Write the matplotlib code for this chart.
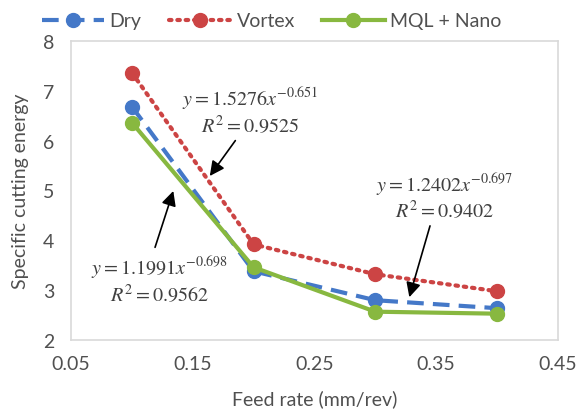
import matplotlib.pyplot as plt

plt.rcParams["font.family"] = ["Lato", "DejaVu Sans"]
plt.rcParams["mathtext.fontset"] = "stix"

feed = [0.1, 0.2, 0.3, 0.4]
dry = [6.68, 3.38, 2.8, 2.64]
vortex = [7.36, 3.92, 3.32, 2.98]
mql = [6.36, 3.46, 2.57, 2.53]

xticks = [0.05, 0.15, 0.25, 0.35, 0.45]
yticks = [2, 3, 4, 5, 6, 7, 8]

blue = "#4478C8"
red = "#CC4444"
green = "#88B840"
txt = "#505050"

fig = plt.figure(figsize=(5.78, 4.10), dpi=100)
ax = fig.add_axes([0.123, 0.168, 0.842, 0.730])

ax.plot(feed, dry, color=blue, lw=3, ls=(0, (4, 2.2)), marker="o", ms=10, label="Dry")
ax.plot(feed, vortex, color=red, lw=3, ls=(0, (0.6, 1.4)), dash_capstyle="round",
        marker="o", ms=10, label="Vortex")
ax.plot(feed, mql, color=green, lw=3, marker="o", ms=10, label="MQL + Nano")

ax.set_xlim(0.05, 0.45)
ax.set_ylim(2, 8)
ax.set_xticks(xticks)
ax.set_xticklabels([f"{v:.2f}" for v in xticks])
ax.set_yticks(yticks)
ax.tick_params(length=0, labelsize=14, colors=txt)
ax.tick_params(axis="x", pad=11)
ax.tick_params(axis="y", pad=12)
for s in ax.spines.values():
    s.set_color("#D9D9D9")
    s.set_linewidth(1.2)

ax.set_xlabel("Feed rate (mm/rev)", fontsize=14, color=txt, labelpad=12)
ax.set_ylabel("Specific cutting energy", fontsize=14, color=txt, labelpad=10)

arrow = dict(arrowstyle="-|>", color="k", lw=1.2, mutation_scale=22, shrinkA=0, shrinkB=0)
eqs = [
    (r"$y = 1.5276x^{-0.651}$", r"$R^2 = 0.9525$", (0.197, 6.84), (0.185, 6.0), (0.164, 5.29)),
    (r"$y = 1.1991x^{-0.698}$", r"$R^2 = 0.9562$", (0.123, 3.46), (0.119, 3.86), (0.134, 4.99)),
    (r"$y = 1.2402x^{-0.697}$", r"$R^2 = 0.9402$", (0.357, 5.13), (0.345, 4.29), (0.328, 2.86)),
]
for eq, r2, (tx, ty), start, tip in eqs:
    ax.text(tx, ty, eq, ha="center", va="center", fontsize=14.5, color="#404040")
    ax.text(tx, ty - 0.52, r2, ha="center", va="center", fontsize=14.5, color="#404040")
    ax.annotate("", xy=tip, xytext=start, arrowprops=arrow)

fig.legend(loc="upper center", bbox_to_anchor=(0.47, 1.01), ncol=3, frameon=False,
           fontsize=14, handlelength=3.2, columnspacing=1.4, handletextpad=0.3,
           labelcolor=txt)

fig.savefig("out.png", dpi=100)
